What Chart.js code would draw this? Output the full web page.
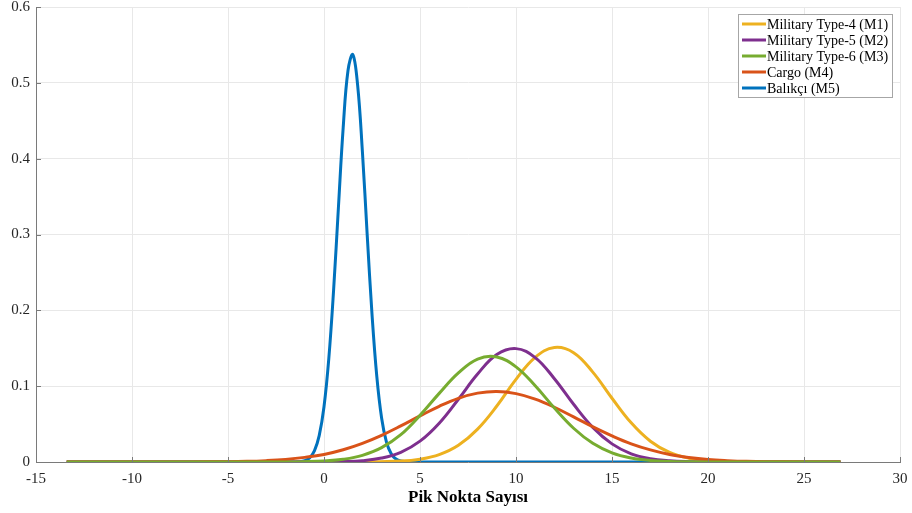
<!DOCTYPE html>
<html>
<head>
<meta charset="utf-8">
<script src="https://cdn.jsdelivr.net/npm/chart.js@4/dist/chart.umd.min.js"></script>
<style>
  html, body { margin: 0; padding: 0; background: #ffffff; }
  #wrap { width: 912px; height: 513px; position: relative; }
</style>
</head>
<body>
<div id="wrap"><canvas id="c" width="912" height="513"></canvas></div>
<script>
// ---- data ----
const seriesLabels = ["Military Type-4 (M1)", "Military Type-5 (M2)", "Military Type-6 (M3)", "Cargo (M4)", "Balıkçı (M5)"];
const xTickLabels = ["-15", "-10", "-5", "0", "5", "10", "15", "20", "25", "30"];
const yTickLabels = ["0", "0.1", "0.2", "0.3", "0.4", "0.5", "0.6"];
const xTitle = "Pik Nokta Sayısı";

const xM1 = [-13.4, 0, 2, 4, 5, 6, 7, 8, 9, 10, 11, 12, 13, 14, 15, 16, 17, 18, 19, 20, 22, 24, 26.9];
const yM1 = [0, 0, 0.0001, 0.0012, 0.0037, 0.0097, 0.022, 0.0434, 0.0738, 0.109, 0.138, 0.151, 0.1442, 0.1185, 0.0841, 0.0516, 0.0274, 0.0126, 0.005, 0.0017, 0.0001, 0, 0];

const xM2 = [-13.4, -2, 0, 1, 2, 3, 4, 5, 6, 7, 8, 9, 10, 11, 12, 13, 14, 15, 16, 17, 18, 19, 20, 22, 26.9];
const yM2 = [0, 0, 0.00015, 0.00055, 0.0018, 0.0052, 0.0128, 0.0275, 0.0512, 0.0828, 0.116, 0.1417, 0.1495, 0.1377, 0.1098, 0.0761, 0.0457, 0.0239, 0.0108, 0.0043, 0.0015, 0.0004, 0.0001, 0, 0];

const xM3 = [-13.4, -4, -2, -1, 0, 1, 2, 3, 4, 5, 6, 7, 8, 9, 10, 11, 12, 13, 14, 15, 16, 17, 18, 19, 20, 22, 26.9];
const yM3 = [0, 0, 0.00012, 0.0004, 0.0013, 0.0036, 0.0088, 0.0189, 0.036, 0.0615, 0.0905, 0.1175, 0.1358, 0.1385, 0.1255, 0.1005, 0.0712, 0.0445, 0.0246, 0.0121, 0.0053, 0.002, 0.0007, 0.0002, 0.00005, 0, 0];

const xM4 = [-13.4, -10, -8, -6, -4, -3, -2, -1, 0, 1, 2, 3, 4, 5, 6, 7, 8, 9, 10, 11, 12, 13, 14, 15, 16, 17, 18, 19, 20, 21, 22, 24, 26.9];
const yM4 = [0, 0, 0.00003, 0.0002, 0.0009, 0.0018, 0.0034, 0.0061, 0.0100, 0.0162, 0.0246, 0.0352, 0.0476, 0.0608, 0.0735, 0.0840, 0.0908, 0.0930, 0.0902, 0.0830, 0.0722, 0.0595, 0.0465, 0.0345, 0.0240, 0.0160, 0.0100, 0.0060, 0.0033, 0.0018, 0.0009, 0.0002, 0];

const xM5 = [-13.4, -2, -1.5, -1, -0.75, -0.5, -0.25, 0, 0.25, 0.5, 0.75, 1, 1.25, 1.5, 1.75, 2, 2.25, 2.5, 2.75, 3, 3.25, 3.5, 3.75, 4, 4.5, 5, 26.9];
const yM5 = [0, 0, 0.0001, 0.0018, 0.0055, 0.0147, 0.0347, 0.0728, 0.1363, 0.2267, 0.3353, 0.4412, 0.5162, 0.5372, 0.4972, 0.4093, 0.2996, 0.195, 0.1129, 0.058, 0.0266, 0.0109, 0.0039, 0.0013, 0.0001, 0, 0];

const colors = ["#EDB120", "#7E2F8E", "#77AC30", "#D95319", "#0072BD"];
// ---------------------------------------------

function pts(xs, ys) { return xs.map((x, i) => ({ x: x, y: ys[i] })); }

const xsAll = [xM1, xM2, xM3, xM4, xM5];
const ysAll = [yM1, yM2, yM3, yM4, yM5];
const drawOrder = [4, 3, 1, 2, 5]; // lower = drawn on top

const datasets = seriesLabels.map((lab, i) => ({
  label: lab,
  data: pts(xsAll[i], ysAll[i]),
  borderColor: colors[i],
  backgroundColor: colors[i],
  borderWidth: 3,
  pointRadius: 0,
  fill: false,
  tension: 0.4,
  order: drawOrder[i]
}));

const AXIS_COLOR = '#7a7a7a';
const TEXT_COLOR = '#262626';
const SERIF = '"Liberation Serif", "Times New Roman", serif';

const innerTicks = {
  id: 'innerTicks',
  afterDatasetsDraw(chart) {
    const ctx = chart.ctx, ca = chart.chartArea;
    const xs = chart.scales.x, ys = chart.scales.y;
    ctx.save();
    ctx.strokeStyle = AXIS_COLOR;
    ctx.lineWidth = 1;
    ctx.beginPath();
    xs.ticks.forEach(t => {
      const px = Math.round(xs.getPixelForValue(t.value)) + 0.5;
      ctx.moveTo(px, ca.bottom); ctx.lineTo(px, ca.bottom - 5);
    });
    ys.ticks.forEach(t => {
      const py = Math.round(ys.getPixelForValue(t.value)) + 0.5;
      ctx.moveTo(ca.left, py); ctx.lineTo(ca.left + 5, py);
    });
    ctx.stroke();
    ctx.restore();
  }
};

const boxLegend = {
  id: 'boxLegend',
  afterDraw(chart) {
    const ctx = chart.ctx;
    const x0 = 738, y0 = 14, w = 154, h = 83;
    ctx.save();
    ctx.fillStyle = '#ffffff';
    ctx.fillRect(x0, y0, w, h);
    ctx.strokeStyle = '#a6a6a6';
    ctx.lineWidth = 1;
    ctx.strokeRect(x0 + 0.5, y0 + 0.5, w, h);
    ctx.font = '14px ' + SERIF;
    ctx.textBaseline = 'middle';
    ctx.textAlign = 'left';
    chart.data.datasets.forEach((ds, i) => {
      const cy = y0 + 10 + i * 16;
      ctx.strokeStyle = ds.borderColor;
      ctx.lineWidth = 3;
      ctx.beginPath();
      ctx.moveTo(742, cy); ctx.lineTo(766, cy);
      ctx.stroke();
      ctx.fillStyle = '#000000';
      ctx.fillText(ds.label, 767, cy + 1);
    });
    ctx.restore();
  }
};

new Chart(document.getElementById('c'), {
  type: 'line',
  data: { datasets: datasets },
  options: {
    responsive: false,
    animation: false,
    devicePixelRatio: 1,
    layout: { padding: { top: 7, right: 12, left: 0, bottom: 0 } },
    plugins: {
      legend: { display: false },
      tooltip: { enabled: false }
    },
    scales: {
      x: {
        type: 'linear',
        min: -15, max: 30,
        ticks: {
          stepSize: 5,
          color: TEXT_COLOR,
          font: { family: SERIF, size: 15 },
          padding: 8,
          maxRotation: 0,
          callback: (v) => xTickLabels[Math.round((v + 15) / 5)]
        },
        grid: { color: '#e8e8e8', lineWidth: 1, drawTicks: false },
        border: { display: true, color: AXIS_COLOR, width: 1 },
        title: {
          display: true, text: xTitle, color: '#000000',
          font: { family: SERIF, size: 17, weight: 'bold' },
          padding: { top: 0, bottom: 5 }
        },
        afterFit: (s) => { s.height = 51; s.paddingLeft = 0; s.paddingRight = 0; }
      },
      y: {
        type: 'linear',
        min: 0, max: 0.6,
        ticks: {
          stepSize: 0.1,
          color: TEXT_COLOR,
          font: { family: SERIF, size: 15 },
          padding: 6,
          callback: (v) => yTickLabels[Math.round(v * 10)]
        },
        grid: { color: '#e8e8e8', lineWidth: 1, drawTicks: false },
        border: { display: true, color: AXIS_COLOR, width: 1 },
        afterFit: (s) => { s.width = 36; s.paddingTop = 0; s.paddingBottom = 0; }
      }
    }
  },
  plugins: [innerTicks, boxLegend]
});
</script>
</body>
</html>
